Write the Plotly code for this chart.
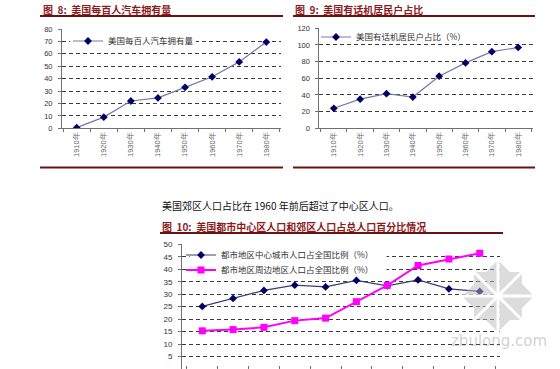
import plotly.graph_objects as go

W, H = 560, 369

# ---------------- data ----------------
years8 = ["1910年", "1920年", "1930年", "1940年", "1950年", "1960年", "1970年", "1980年"]
cars_per_100 = [0.5, 9, 22, 24.5, 33, 41.5, 53.5, 69.5]
phone_share = [24, 35, 41.5, 37.5, 62.5, 78.5, 92, 97]

years10 = ["1910年", "1920年", "1930年", "1940年", "1950年", "1960年", "1970年", "1980年", "1990年", "2000年"]
center_city = [25.1, 28.3, 31.5, 33.6, 32.9, 35.5, 33.3, 35.7, 32.1, 31.1]
suburbs = [15.3, 15.8, 16.7, 19.4, 20.4, 27.0, 33.5, 41.5, 44.1, 46.4]

name8 = "美国每百人汽车拥有量"
name9 = "美国有话机居民户占比（%）"
name10a = "都市地区中心城市人口占全国比例（%）"
name10b = "都市地区周边地区人口占全国比例（%）"

# ---------------- helpers ----------------
def px(x):
    return x / W

def py(y):
    return 1 - y / H

CJK = "Noto Sans CJK SC"
NUM = "Liberation Sans"
TITLE_COLOR = "#8c1c1c"
RULE_COLOR = "#6e1010"
GRID_DASH = "4px,3px"

fig = go.Figure()

fig.add_trace(go.Scatter(
    x=years8, y=cars_per_100, name=name8, mode="lines+markers",
    line=dict(color="#7878a8", width=1.2),
    marker=dict(symbol="diamond", size=6, color="#000066"),
    xaxis="x", yaxis="y", legend="legend", showlegend=True))

fig.add_trace(go.Scatter(
    x=years8, y=phone_share, name=name9, mode="lines+markers",
    line=dict(color="#7878a8", width=1.2),
    marker=dict(symbol="diamond", size=6, color="#000066"),
    xaxis="x2", yaxis="y2", legend="legend2", showlegend=True))

fig.add_trace(go.Scatter(
    x=years10, y=center_city, name=name10a, mode="lines+markers",
    line=dict(color="#3a3a78", width=1.2),
    marker=dict(symbol="diamond", size=6, color="#000066"),
    xaxis="x3", yaxis="y3", legend="legend3", showlegend=True))

fig.add_trace(go.Scatter(
    x=years10, y=suburbs, name=name10b, mode="lines+markers",
    line=dict(color="#ff00ff", width=2),
    marker=dict(symbol="square", size=7, color="#ff00ff"),
    xaxis="x3", yaxis="y3", legend="legend4", showlegend=True))

def xax(domain, anchor, labels=True, ticks="outside"):
    return dict(domain=domain, anchor=anchor, type="category",
                showgrid=False, showline=True, linecolor="#707070", linewidth=1,
                ticks=ticks, ticklen=3, tickcolor="#707070", tickson="boundaries",
                tickangle=-90, tickfont=dict(family=NUM, size=7.5, color="#666666"),
                showticklabels=labels, automargin=False, fixedrange=True)

def yax(domain, anchor, rng, dtick, fs):
    return dict(domain=domain, anchor=anchor, range=rng, dtick=dtick,
                showgrid=True, gridcolor="#3a3a3a", gridwidth=1, griddash=GRID_DASH,
                zeroline=False, showline=True, linecolor="#707070", linewidth=1,
                ticks="outside", ticklen=3, tickcolor="#707070",
                tickfont=dict(family=NUM, size=fs, color="#333333"),
                ticklabelstandoff=4, automargin=False, fixedrange=True)

# plot areas (pixel extents)
L = dict(x0=62, x1=281, yt=29, yb=128.3, n=8, ymax=80)
R = dict(x0=319.4, x1=532.6, yt=28.3, yb=128.3, n=8, ymax=120)
B = dict(x0=182, x1=500, yt=244.3, yb=369, n=10, ymax=50)

def dom_x(a):
    return [px(a["x0"]), px(a["x1"])]

def dom_y(a):
    return [max(0, py(a["yb"])), py(a["yt"])]

fig.update_layout(
    width=W, height=H, margin=dict(l=0, r=0, t=0, b=0),
    paper_bgcolor="white", plot_bgcolor="white", showlegend=True,
    xaxis=xax(dom_x(L), "y"),
    yaxis=yax(dom_y(L), "x", [0, 80], 10, 7.5),
    xaxis2=xax(dom_x(R), "y2"),
    yaxis2=yax(dom_y(R), "x2", [0, 120], 20, 7.5),
    xaxis3=xax(dom_x(B), "y3", labels=False, ticks="inside"),
    yaxis3=yax(dom_y(B), "x3", [0, 50], 5, 8),
)

legend_font = dict(family=CJK, size=8.5, color="#333333")

def legend_at(x, y):
    return dict(x=px(x), y=py(y), xanchor="left", yanchor="middle",
                bgcolor="rgba(0,0,0,0)", borderwidth=0, font=legend_font,
                itemclick=False, itemdoubleclick=False, visible=True)

fig.update_layout(
    legend=legend_at(68, 41),
    legend2=legend_at(316, 37),
    legend3=legend_at(181, 255),
    legend4=legend_at(181, 270),
)

shapes = []
# white patches hiding gridlines behind legends (between grid and traces)
def blank(area, xa, ya, x0, x1, y0, y1):
    cw = (area["x1"] - area["x0"]) / area["n"]
    k = (area["yb"] - area["yt"]) / area["ymax"]
    return dict(type="rect", xref=xa, yref=ya,
                x0=(x0 - area["x0"]) / cw - 0.5, x1=(x1 - area["x0"]) / cw - 0.5,
                y0=(area["yb"] - y1) / k, y1=(area["yb"] - y0) / k,
                fillcolor="white", line=dict(width=0), layer="between")

shapes.append(blank(L, "x", "y", 69, 196, 34, 48))
shapes.append(blank(B, "x3", "y3", 185, 388, 249, 277))

# rules under titles / under the top charts
def rule(x0, x1, y):
    return dict(type="line", xref="paper", yref="paper",
                x0=px(x0), x1=px(x1), y0=py(y), y1=py(y),
                line=dict(color=RULE_COLOR, width=2))

shapes += [rule(40, 283, 16), rule(293, 535, 16),
           rule(40, 283, 167.5), rule(293, 535, 167.5),
           rule(160, 503, 233)]

# watermark logo (light grey eight-point star)
cx, cy = 498, 296
s, d = 24, 36
star = [(cx, cy - d), (cx + d - s, cy - s), (cx + s, cy - s), (cx + s, cy - (d - s)),
        (cx + d, cy), (cx + s, cy + (d - s)), (cx + s, cy + s), (cx + d - s, cy + s),
        (cx, cy + d), (cx - (d - s), cy + s), (cx - s, cy + s), (cx - s, cy + (d - s)),
        (cx - d, cy), (cx - s, cy - (d - s)), (cx - s, cy - s), (cx - (d - s), cy - s)]
path = "M " + " L ".join(f"{px(a)},{py(b)}" for a, b in star) + " Z"
shapes.append(dict(type="path", xref="paper", yref="paper", path=path,
                   fillcolor="rgba(185,185,185,0.5)", line=dict(width=0), layer="above"))
for (a0, b0, a1, b1) in [(cx - d, cy, cx + d, cy), (cx, cy - d, cx, cy + d),
                         (cx - 26, cy - 26, cx + 26, cy + 26), (cx - 26, cy + 26, cx + 26, cy - 26)]:
    shapes.append(dict(type="line", xref="paper", yref="paper",
                       x0=px(a0), y0=py(b0), x1=px(a1), y1=py(b1),
                       line=dict(color="white", width=3), layer="above"))

fig.update_layout(shapes=shapes)

def text(x, y, s, size=10, color="#000000", bold=False, family=CJK, anchor="left"):
    return dict(x=px(x), y=py(y), xref="paper", yref="paper",
                text=f"<b>{s}</b>" if bold else s, showarrow=False,
                xanchor=anchor, yanchor="middle",
                font=dict(family=family, size=size, color=color))

fig.update_layout(annotations=[
    text(41, 9.5, "图  8:  美国每百人汽车拥有量", 10, TITLE_COLOR, True),
    text(293, 9.5, "图  9:  美国有话机居民户占比", 10, TITLE_COLOR, True),
    text(160, 205, "美国郊区人口占比在 1960 年前后超过了中心区人口。", 10, "#111111"),
    text(160, 226, "图  10:  美国都市中心区人口和郊区人口占总人口百分比情况", 10, TITLE_COLOR, True),
    text(499, 341, "zbulong.com", 15, "rgba(150,150,150,0.45)", False, "DejaVu Sans", "center"),
])

fig.write_html("out.html", config={"displayModeBar": False},
               post_script="document.body.style.margin='0';document.body.style.padding='0';")
